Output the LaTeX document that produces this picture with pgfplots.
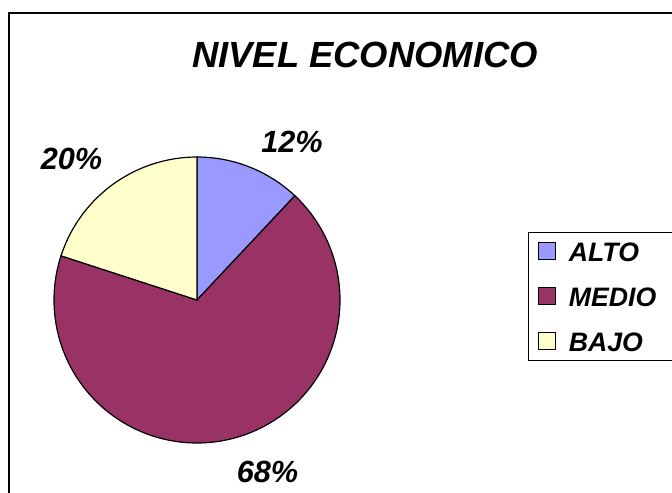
\documentclass[border=0pt]{standalone}
\usepackage{pgfplots}
\pgfplotsset{compat=1.18}
\usepgfplotslibrary{polar}
\usepackage{fontspec}
\setmainfont{Liberation Sans}
\definecolor{alto}{HTML}{9999FF}
\definecolor{medio}{HTML}{993366}
\definecolor{bajo}{HTML}{FFFFCC}
\begin{document}
\begin{tikzpicture}
\useasboundingbox (0,0) rectangle (504pt,-369.75pt);
\draw[line width=1.2pt] (6.75pt,-380pt) -- (6.75pt,-9.75pt) -- (520pt,-9.75pt);
\node[font=\bfseries\itshape\fontsize{27.3}{30}\selectfont, inner sep=0pt] at (365*0.75pt,-55*0.75pt) {NIVEL ECONOMICO};
\begin{polaraxis}[
  at={(197*0.75pt,-300*0.75pt)}, anchor=center,
  scale only axis, width=214.5pt, height=214.5pt,
  hide axis, ymin=0, ymax=1, clip=false,
  legend style={at={(1.657,0.738)}, anchor=north west,
    draw=black, line width=0.75pt, fill=white,
    inner xsep=7.5pt, inner ysep=7pt,
    font=\bfseries\itshape\fontsize{20}{24}\selectfont,
    row sep=19.25pt, column sep=0pt,
    nodes={inner sep=0pt, text height=14.5pt, text depth=0pt, anchor=west}},
  legend image code/.code={\draw[#1, line width=0.75pt] (0pt,-6.4pt) rectangle (12.75pt,6.4pt); \path[draw=none,fill=none] (12.75pt,0pt) rectangle (22.5pt,0.1pt);},
]
% ALTO 12%: 90 - 3.6*12 = 46.8 .. 90
\addplot[fill=alto, draw=black, line width=0.9pt, domain=46.8:90, samples=40, mark=none] {1} -- (axis cs:0,0) -- cycle;
\addlegendentry{\makebox[80pt][l]{ALTO}}
% MEDIO 68%
\addplot[fill=medio, draw=black, line width=0.9pt, domain=-198:46.8, samples=160, mark=none] {1} -- (axis cs:0,0) -- cycle;
\addlegendentry{\makebox[80pt][l]{MEDIO}}
% BAJO 20%
\addplot[fill=bajo, draw=black, line width=0.9pt, domain=-270:-198, samples=50, mark=none] {1} -- (axis cs:0,0) -- cycle;
\addlegendentry{\makebox[80pt][l]{BAJO}}
\end{polaraxis}
\begin{scope}[every node/.style={font=\bfseries\itshape\fontsize{23}{26}\selectfont, inner sep=0pt}]
\node at (292*0.75pt,-141.5*0.75pt) {12\%};
\node at (71.5*0.75pt,-159*0.75pt) {20\%};
\node at (267.5*0.75pt,-472*0.75pt) {68\%};
\end{scope}
\end{tikzpicture}
\end{document}
